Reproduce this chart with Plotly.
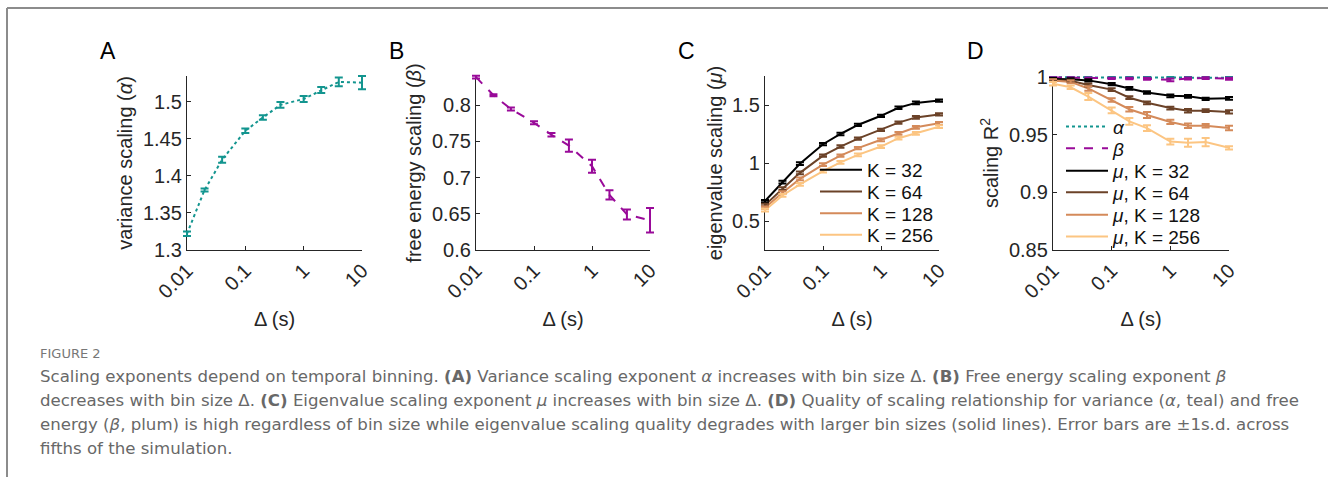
import plotly.graph_objects as go

W, H = 1328, 477

# ---------------- data ----------------
delta = [0.01, 0.02, 0.04, 0.1, 0.2, 0.4, 1, 2, 4, 10]
tick_vals = [0.01, 0.1, 1, 10]
tick_text = ["0.01", "0.1", "1", "10"]

alpha = [1.322, 1.381, 1.422, 1.461, 1.479, 1.496, 1.504, 1.516, 1.527, 1.526]
alpha_err = [0.003, 0.002, 0.004, 0.003, 0.003, 0.004, 0.004, 0.004, 0.006, 0.009]

beta = [0.8385, 0.8135, 0.7945, 0.7755, 0.759, 0.744, 0.7155, 0.676, 0.649, 0.641]
beta_err = [0.002, 0.0015, 0.002, 0.002, 0.0025, 0.0085, 0.009, 0.0065, 0.007, 0.017]

K_labels = ["K = 32", "K = 64", "K = 128", "K = 256"]
mu_32 = [0.672, 0.835, 0.994, 1.162, 1.250, 1.328, 1.407, 1.476, 1.518, 1.538]
mu_64 = [0.638, 0.780, 0.915, 1.063, 1.142, 1.210, 1.285, 1.348, 1.393, 1.419]
mu_128 = [0.615, 0.744, 0.863, 0.986, 1.063, 1.128, 1.200, 1.256, 1.308, 1.342]
mu_256 = [0.593, 0.720, 0.815, 0.930, 1.006, 1.070, 1.142, 1.214, 1.256, 1.313]
mu_err_32 = [0.010, 0.012, 0.012, 0.010, 0.010, 0.010, 0.010, 0.010, 0.012, 0.010]
mu_err_64 = [0.010, 0.012, 0.012, 0.010, 0.010, 0.010, 0.010, 0.010, 0.012, 0.010]
mu_err_128 = [0.010, 0.012, 0.012, 0.012, 0.010, 0.010, 0.012, 0.012, 0.012, 0.012]
mu_err_256 = [0.012, 0.012, 0.012, 0.012, 0.012, 0.012, 0.012, 0.012, 0.012, 0.012]

r2_alpha = [0.9997, 0.9997, 0.9997, 0.9996, 0.9996, 0.9995, 0.9994, 0.9995, 0.9994, 0.9993]
r2_alpha_err = [0.0002, 0.0002, 0.0002, 0.0003, 0.0003, 0.0004, 0.0005, 0.0005, 0.0005, 0.0006]
r2_beta = [0.9995, 0.9994, 0.9992, 0.9988, 0.9986, 0.9984, 0.9975, 0.9986, 0.9990, 0.9984]
r2_beta_err = [0.0003, 0.0003, 0.0004, 0.0005, 0.0006, 0.0008, 0.0012, 0.0008, 0.0007, 0.0008]
r2_mu_32 = [0.9983, 0.9980, 0.9970, 0.9937, 0.9900, 0.9865, 0.9836, 0.9832, 0.9810, 0.9815]
r2_mu_64 = [0.9970, 0.9966, 0.9930, 0.9890, 0.9820, 0.9776, 0.9730, 0.9707, 0.9707, 0.9697]
r2_mu_128 = [0.9968, 0.9957, 0.9900, 0.9800, 0.9720, 0.9670, 0.9610, 0.9577, 0.9577, 0.9557]
r2_mu_256 = [0.9940, 0.9910, 0.9830, 0.9710, 0.9615, 0.9557, 0.9440, 0.9430, 0.9435, 0.9385]
r2_err_32 = [0.0008, 0.0008, 0.0010, 0.0010, 0.0012, 0.0010, 0.0012, 0.0012, 0.0010, 0.0012]
r2_err_64 = [0.0010, 0.0010, 0.0012, 0.0012, 0.0012, 0.0012, 0.0012, 0.0015, 0.0012, 0.0015]
r2_err_128 = [0.0012, 0.0012, 0.0020, 0.0015, 0.0020, 0.0025, 0.0018, 0.0020, 0.0015, 0.0020]
r2_err_256 = [0.0015, 0.0015, 0.0030, 0.0025, 0.0030, 0.0025, 0.0025, 0.0035, 0.0035, 0.0015]

caption_head = "FIGURE 2"
caption_lines = [
    "Scaling exponents depend on temporal binning. <b>(A)</b> Variance scaling exponent <i>α</i> increases with bin size Δ. <b>(B)</b> Free energy scaling exponent <i>β</i>",
    "decreases with bin size Δ. <b>(C)</b> Eigenvalue scaling exponent <i>μ</i> increases with bin size Δ. <b>(D)</b> Quality of scaling relationship for variance (<i>α</i>, teal) and free",
    "energy (<i>β</i>, plum) is high regardless of bin size while eigenvalue scaling quality degrades with larger bin sizes (solid lines). Error bars are ±1s.d. across",
    "fifths of the simulation.",
]

# ---------------- styles ----------------
TEAL = "#13958f"
PLUM = "#990a99"
K_COLORS = ["#000000", "#6b4228", "#d48a5a", "#fcc582"]
FONT = "Liberation Sans, Arial, sans-serif"
AXC = "#262626"


def px_x(p):
    return p / W


def px_y(p):
    return 1 - p / H


panels = [
    dict(x0=187, x1=362, letter="A", ytitle="variance scaling (<i>α</i>)",
         yrange=[1.3, 1.535], ytick=[1.3, 1.35, 1.4, 1.45, 1.5],
         yticktext=["1.3", "1.35", "1.4", "1.45", "1.5"]),
    dict(x0=476, x1=650, letter="B", ytitle="free energy scaling (<i>β</i>)",
         yrange=[0.6, 0.84], ytick=[0.6, 0.65, 0.7, 0.75, 0.8],
         yticktext=["0.6", "0.65", "0.7", "0.75", "0.8"]),
    dict(x0=765, x1=939, letter="C", ytitle="eigenvalue scaling (<i>μ</i>)",
         yrange=[0.25, 1.75], ytick=[0.5, 1, 1.5],
         yticktext=["0.5", "1", "1.5"]),
    dict(x0=1053, x1=1229, letter="D", ytitle="scaling R<sup>2</sup>",
         yrange=[0.85, 1.0008], ytick=[0.85, 0.9, 0.95, 1],
         yticktext=["0.85", "0.9", "0.95", "1"]),
]
Y_TOP, Y_BOT = 76, 250
letter_x = [98, 387, 676, 965]
PADX, PADY = 8, 6   # error-bar layer extends a few px beyond the drawn axes so caps are not cut

fig = go.Figure()


def add(i, x, y, err, color, dash, name=None, legend=None, showlegend=False):
    ax = "" if i == 0 else str(i + 1)
    # line on the visible axes
    fig.add_trace(go.Scatter(
        x=x, y=y, mode="lines", name=name or "",
        line=dict(color=color, width=2, dash=dash),
        xaxis="x" + ax, yaxis="y" + ax,
        showlegend=showlegend, legend=legend,
    ))
    # error bars on a hidden twin of the same scale (not clipped at the axis ends)
    dax = str(i + 5)
    fig.add_trace(go.Scatter(
        x=x, y=y, mode="markers", marker=dict(size=1, opacity=0, color=color),
        error_y=dict(type="data", array=err, visible=True, color=color,
                     thickness=2, width=4),
        xaxis="x" + dax, yaxis="y" + dax, showlegend=False, hoverinfo="skip",
    ))


layout = dict(
    width=W, height=H,
    margin=dict(l=0, r=0, t=0, b=0, pad=0, autoexpand=False),
    paper_bgcolor="white", plot_bgcolor="rgba(0,0,0,0)",
    font=dict(family=FONT, color=AXC, size=20),
    annotations=[], shapes=[],
)

add(0, delta, alpha, alpha_err, TEAL, "dot")
add(1, delta, beta, beta_err, PLUM, "dash")

# one legend per entry so that entries can sit as tightly as in the reference
leg_n = [0]


def new_legend(x, yc):
    leg_n[0] += 1
    name = "legend" if leg_n[0] == 1 else "legend%d" % leg_n[0]
    layout[name] = dict(x=px_x(x), y=px_y(yc), xanchor="left", yanchor="middle",
                        bgcolor="rgba(0,0,0,0)", font=dict(size=19, color="#111"),
                        itemwidth=42, borderwidth=0)
    return name


c_leg_y = [170, 191.7, 213.3, 235]
for lab, ys, es, c, yc in zip(K_labels, [mu_32, mu_64, mu_128, mu_256],
                              [mu_err_32, mu_err_64, mu_err_128, mu_err_256], K_COLORS, c_leg_y):
    add(2, delta, ys, es, c, "solid", name=lab, legend=new_legend(815, yc), showlegend=True)

d_leg_y = [126.7, 148.3, 171, 192.5, 215, 236.7]
add(3, delta, r2_alpha, r2_alpha_err, TEAL, "dot", name="<i>α</i>",
    legend=new_legend(1061, d_leg_y[0]), showlegend=True)
add(3, delta, r2_beta, r2_beta_err, PLUM, "dash", name="<i>β</i>",
    legend=new_legend(1061, d_leg_y[1]), showlegend=True)
for lab, ys, es, c, yc in zip(K_labels, [r2_mu_32, r2_mu_64, r2_mu_128, r2_mu_256],
                              [r2_err_32, r2_err_64, r2_err_128, r2_err_256], K_COLORS, d_leg_y[2:]):
    add(3, delta, ys, es, c, "solid", name="<i>μ</i>, " + lab,
        legend=new_legend(1061, yc), showlegend=True)

for i, p in enumerate(panels):
    ax = "" if i == 0 else str(i + 1)
    # visible axes (spines, ticks, titles)
    layout["xaxis" + ax] = dict(
        domain=[px_x(p["x0"]), px_x(p["x1"])], anchor="y" + ax,
        type="log", range=[-2, 1], tickvals=tick_vals, ticktext=tick_text,
        tickangle=-45, ticks="inside", ticklen=4, tickcolor=AXC,
        showline=True, linecolor=AXC, linewidth=1.3, showgrid=False, zeroline=False,
        automargin=False, tickfont=dict(size=20, color=AXC),
        title=dict(text="Δ (s)", font=dict(size=20, color=AXC), standoff=10),
    )
    layout["yaxis" + ax] = dict(
        domain=[px_y(Y_BOT), px_y(Y_TOP)], anchor="x" + ax,
        range=p["yrange"], tickvals=p["ytick"], ticktext=p["yticktext"],
        ticks="inside", ticklen=4, tickcolor=AXC,
        showline=True, linecolor=AXC, linewidth=1.3, showgrid=False, zeroline=False,
        automargin=False, tickfont=dict(size=20, color=AXC),
        title=dict(text=p["ytitle"], font=dict(size=20, color=AXC), standoff=4),
    )
    # hidden twin axes with the same scale, slightly larger window
    dx = 3.0 / (p["x1"] - p["x0"]) * PADX
    y0, y1 = p["yrange"]
    dy = (y1 - y0) / (Y_BOT - Y_TOP) * PADY
    dax = str(i + 5)
    layout["xaxis" + dax] = dict(
        domain=[px_x(p["x0"] - PADX), px_x(p["x1"] + PADX)], anchor="y" + dax,
        type="log", range=[-2 - dx, 1 + dx], visible=False, automargin=False,
        showgrid=False, zeroline=False)
    layout["yaxis" + dax] = dict(
        domain=[px_y(Y_BOT + PADY), px_y(Y_TOP - PADY)], anchor="x" + dax,
        range=[y0 - dy, y1 + dy], visible=False, automargin=False,
        showgrid=False, zeroline=False)
    layout["annotations"].append(dict(
        text=p["letter"], x=px_x(letter_x[i]), y=px_y(51),
        xref="paper", yref="paper", xanchor="left", yanchor="middle",
        showarrow=False, font=dict(size=23, color="black", family=FONT)))

CAP_FONT = "DejaVu Sans, sans-serif"
layout["annotations"].append(dict(
    text=caption_head, x=px_x(38), y=px_y(353), xref="paper", yref="paper",
    xanchor="left", yanchor="middle", showarrow=False,
    font=dict(size=13, color="#777777", family=CAP_FONT)))
for k, line in enumerate(caption_lines):
    layout["annotations"].append(dict(
        text=line, x=px_x(38), y=px_y(376 + 24.3 * k), xref="paper", yref="paper",
        xanchor="left", yanchor="middle", showarrow=False,
        font=dict(size=16.6, color="#686868", family=CAP_FONT)))

# outer frame (top and left)
layout["shapes"].append(dict(type="line", xref="paper", yref="paper",
                             x0=px_x(7), x1=1, y0=px_y(8), y1=px_y(8),
                             line=dict(color="#8c8c8c", width=2)))
layout["shapes"].append(dict(type="line", xref="paper", yref="paper",
                             x0=px_x(7), x1=px_x(7), y0=px_y(8), y1=0,
                             line=dict(color="#8c8c8c", width=2)))

fig.update_layout(**layout)
fig.write_html("out.html")
